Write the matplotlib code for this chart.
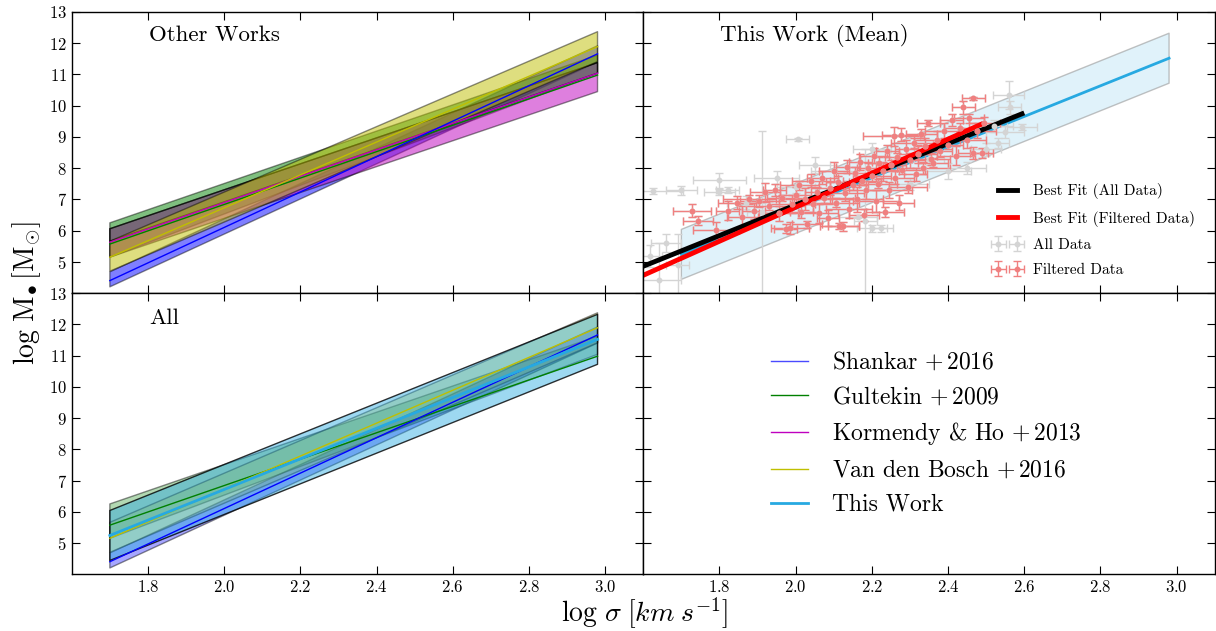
import numpy as np
import matplotlib
matplotlib.use("Agg")
import matplotlib.pyplot as plt

plt.rcParams["font.family"] = "serif"
plt.rcParams["font.serif"] = ["cmr10"]
plt.rcParams["mathtext.fontset"] = "cm"
plt.rcParams["axes.formatter.use_mathtext"] = True
plt.rcParams["xtick.direction"] = "in"
plt.rcParams["ytick.direction"] = "in"
plt.rcParams["xtick.top"] = True
plt.rcParams["ytick.right"] = True
plt.rcParams["xtick.major.size"] = 6
plt.rcParams["ytick.major.size"] = 6

# ---- relations: values at log sigma = 1.7 and 2.98 ----
sig_ends = [1.7, 2.98]

shankar_line = [4.40, 11.66]
shankar_lo = [4.20, 11.40]
shankar_hi = [4.68, 11.92]

gultekin_line = [5.57, 10.98]
gultekin_lo = [5.15, 11.04]
gultekin_hi = [6.25, 11.62]
gultekin_in_lo = [5.66, 11.04]
gultekin_in_hi = [6.06, 11.38]

kormendy_line = [5.63, 11.04]
kormendy_lo = [5.15, 10.45]
kormendy_hi = [6.06, 11.38]

bosch_line = [5.15, 11.89]
bosch_lo = [4.70, 11.41]
bosch_hi = [5.66, 12.37]

this_line = [5.24, 11.52]
this_lo = [4.44, 10.72]
this_hi = [6.04, 12.32]

# best fits (start, end)
fit_all_x = [1.6, 2.594]
fit_all_y = [4.86, 9.74]
fit_filt_x = [1.6, 2.488]
fit_filt_y = [4.57, 9.41]

# ---- filtered data ----
filt_x = [1.727, 1.743, 1.791, 1.822, 1.845, 1.860, 1.878, 1.890, 1.905, 1.919,
          1.930, 1.945, 1.955, 1.965, 1.974, 1.985, 1.990, 2.000, 2.010, 2.015,
          2.025, 2.030, 2.040, 2.045, 2.055, 2.060, 2.070, 2.075, 2.085, 2.090,
          2.100, 2.105, 2.110, 2.115, 2.125, 2.130, 2.135, 2.140, 2.150, 2.155,
          2.160, 2.170, 2.175, 2.180, 2.185, 2.190, 2.200, 2.205, 2.210, 2.215,
          2.220, 2.230, 2.235, 2.240, 2.245, 2.250, 2.257, 2.260, 2.265, 2.270,
          2.276, 2.280, 2.290, 2.295, 2.300, 2.310, 2.315, 2.320, 2.330, 2.335,
          2.340, 2.348, 2.355, 2.360, 2.370, 2.380, 2.390, 2.400, 2.410, 2.420,
          2.430, 2.440, 2.450, 2.455, 2.466, 2.466, 2.475, 2.488, 2.495]
filt_y = [6.64, 6.32, 6.03, 6.64, 6.90, 6.45, 7.00, 6.62, 6.95, 7.23,
          6.80, 7.30, 6.55, 7.05, 6.06, 6.08, 6.85, 7.15, 7.45, 6.60,
          7.00, 6.20, 7.60, 6.85, 7.25, 6.55, 7.70, 7.05, 6.40, 7.35,
          7.90, 6.90, 7.55, 6.15, 6.14, 7.20, 8.05, 6.70, 7.45, 7.85,
          7.00, 8.20, 7.60, 6.50, 7.30, 8.00, 7.75, 8.40, 6.95, 7.50,
          8.15, 7.90, 6.60, 8.55, 7.30, 8.10, 9.02, 7.70, 8.35, 6.90,
          9.07, 7.95, 8.60, 7.40, 8.25, 8.80, 7.80, 8.45, 9.10, 8.00,
          8.70, 9.44, 8.30, 8.18, 8.90, 8.55, 9.20, 8.75, 9.55, 8.40,
          9.30, 9.95, 8.90, 9.60, 10.24, 8.48, 9.20, 8.48, 9.45]
filt_xerr = [0.05, 0.04, 0.06, 0.03, 0.05, 0.04, 0.07, 0.03, 0.05, 0.04,
             0.06, 0.03, 0.05, 0.04, 0.03, 0.05, 0.06, 0.04, 0.05, 0.03,
             0.07, 0.04, 0.05, 0.06, 0.03, 0.05, 0.04, 0.08, 0.03, 0.05,
             0.04, 0.06, 0.03, 0.05, 0.04, 0.05, 0.03, 0.06, 0.04, 0.05,
             0.07, 0.03, 0.05, 0.04, 0.06, 0.03, 0.05, 0.04, 0.06, 0.05,
             0.03, 0.04, 0.05, 0.03, 0.06, 0.04, 0.08, 0.05, 0.03, 0.04,
             0.05, 0.06, 0.03, 0.05, 0.04, 0.06, 0.03, 0.05, 0.04, 0.07,
             0.03, 0.03, 0.05, 0.04, 0.06, 0.03, 0.05, 0.04, 0.03, 0.05,
             0.04, 0.03, 0.05, 0.04, 0.03, 0.04, 0.05, 0.03, 0.04]
filt_yerr = [0.20, 0.15, 0.25, 0.30, 0.20, 0.35, 0.15, 0.25, 0.20, 0.30,
             0.15, 0.20, 0.25, 0.10, 0.15, 0.20, 0.30, 0.25, 0.15, 0.20,
             0.35, 0.10, 0.20, 0.25, 0.15, 0.30, 0.20, 0.15, 0.25, 0.20,
             0.30, 0.15, 0.20, 0.10, 0.15, 0.25, 0.20, 0.30, 0.15, 0.20,
             0.40, 0.25, 0.15, 0.20, 0.30, 0.15, 0.20, 0.25, 0.35, 0.15,
             0.20, 0.30, 0.15, 0.20, 0.25, 0.15, 0.30, 0.20, 0.15, 0.25,
             0.20, 0.15, 0.30, 0.20, 0.25, 0.15, 0.20, 0.30, 0.15, 0.20,
             0.25, 0.10, 0.20, 0.15, 0.30, 0.20, 0.25, 0.15, 0.20, 0.30,
             0.15, 0.20, 0.25, 0.15, 0.05, 0.20, 0.25, 0.15, 0.20]

# ---- extra points in All Data ----
extra_x = [1.618, 1.640, 1.625, 1.660, 1.700, 1.690, 1.800, 1.800, 1.822, 1.870,
           1.911, 1.950, 2.005, 2.000, 2.050, 2.100, 2.163, 2.183, 2.200, 2.225,
           2.200, 2.300, 2.350, 2.400, 2.450, 2.500, 2.520, 2.530, 2.550, 2.559,
           2.562, 2.594]
extra_y = [5.20, 4.41, 7.28, 5.60, 7.29, 4.90, 7.61, 7.23, 7.29, 6.90,
           6.60, 7.70, 8.93, 7.40, 8.10, 7.90, 6.44, 6.30, 6.07, 6.07,
           8.60, 7.50, 8.30, 7.90, 8.00, 8.60, 9.35, 8.80, 9.15, 10.33,
           9.95, 9.32]
extra_xerr = [0.03, 0.06, 0.08, 0.04, 0.04, 0.03, 0.07, 0.04, 0.03, 0.05,
              0.04, 0.06, 0.03, 0.05, 0.04, 0.06, 0.05, 0.03, 0.04, 0.03,
              0.05, 0.05, 0.04, 0.06, 0.05, 0.04, 0.05, 0.03, 0.05, 0.04,
              0.03, 0.04]
extra_yerr = [0.35, 1.20, 0.10, 0.30, 0.15, 1.00, 0.25, 0.10, 0.10, 0.20,
              2.60, 0.20, 0.05, 0.20, 0.25, 0.20, 0.05, 2.30, 0.10, 0.10,
              0.20, 0.20, 0.20, 0.25, 0.20, 0.20, 0.20, 0.15, 0.20, 0.45,
              0.20, 0.10]

all_x = extra_x + filt_x
all_y = extra_y + filt_y
all_xerr = extra_xerr + filt_xerr
all_yerr = extra_yerr + filt_yerr

CYAN = "#27a9e1"
GRAY = "#d4d4d4"
PINK = "#f08080"

fig, axs = plt.subplots(2, 2, figsize=(12.16, 6.31), dpi=100, sharex=True, sharey=True)
fig.subplots_adjust(left=0.059, right=0.999, bottom=0.090, top=0.981, wspace=0, hspace=0)
ax_ow, ax_tw = axs[0]
ax_all, ax_leg = axs[1]


def band(ax, lo, hi, color, alpha=0.5, edge="k", ealpha=0.45):
    ax.fill_between(sig_ends, lo, hi, facecolor=color, alpha=alpha, lw=0)
    ax.fill_between(sig_ends, lo, hi, facecolor="none", edgecolor=edge,
                    alpha=ealpha, lw=1)


# Other Works
band(ax_ow, shankar_lo, shankar_hi, "b")
band(ax_ow, gultekin_lo, gultekin_hi, "g")
band(ax_ow, kormendy_lo, kormendy_hi, "m")
band(ax_ow, gultekin_in_lo, gultekin_in_hi, "g", alpha=0.25, ealpha=0.7)
band(ax_ow, bosch_lo, bosch_hi, "y")
ax_ow.plot(sig_ends, kormendy_line, color="m", lw=1)
ax_ow.plot(sig_ends, gultekin_line, color="g", lw=1)
ax_ow.plot(sig_ends, shankar_line, color="b", lw=1)
ax_ow.plot(sig_ends, bosch_line, color="y", lw=1)
ax_ow.text(0.136, 0.918, "Other Works", transform=ax_ow.transAxes, fontsize=16.5, va="center")

# This Work (Mean)
ax_tw.fill_between(sig_ends, this_lo, this_hi, facecolor=CYAN, alpha=0.14, lw=0)
ax_tw.fill_between(sig_ends, this_lo, this_hi, facecolor="none", edgecolor="0.6",
                   alpha=0.6, lw=1)
ax_tw.plot(sig_ends, this_line, color=CYAN, lw=2)
eb_all = ax_tw.errorbar(all_x, all_y, xerr=all_xerr, yerr=all_yerr, fmt="o", ms=3.2,
                        color=GRAY, ecolor=GRAY, capsize=3, elinewidth=1, mew=1)
eb_filt = ax_tw.errorbar(filt_x, filt_y, xerr=filt_xerr, yerr=filt_yerr, fmt="o", ms=3.2,
                         color=PINK, ecolor=PINK, capsize=3, elinewidth=1, mew=1)
ln_all, = ax_tw.plot(fit_all_x, fit_all_y, color="k", lw=3.5)
ln_filt, = ax_tw.plot(fit_filt_x, fit_filt_y, color="r", lw=3.5)
ax_tw.legend([ln_all, ln_filt, eb_all, eb_filt],
             ["Best Fit (All Data)", "Best Fit (Filtered Data)", "All Data", "Filtered Data"],
             loc="lower right", frameon=False, fontsize=11, numpoints=2,
             handlelength=1.8, labelspacing=0.75, bbox_to_anchor=(0.99, 0.008))
ax_tw.text(0.135, 0.918, "This Work (Mean)", transform=ax_tw.transAxes, fontsize=16.5, va="center")

# All
band(ax_all, shankar_lo, shankar_hi, "b", alpha=0.35)
band(ax_all, gultekin_lo, gultekin_hi, "g", alpha=0.3)
band(ax_all, bosch_lo, bosch_hi, "y", alpha=0.3)
ax_all.fill_between(sig_ends, this_lo, this_hi, facecolor=CYAN, alpha=0.45, lw=0)
ax_all.fill_between(sig_ends, this_lo, this_hi, facecolor="none", edgecolor="k",
                    alpha=0.8, lw=1)
ax_all.plot(sig_ends, gultekin_line, color="g", lw=1)
ax_all.plot(sig_ends, bosch_line, color="y", lw=1)
ax_all.plot(sig_ends, shankar_line, color="b", lw=1)
ax_all.plot(sig_ends, this_line, color=CYAN, lw=2)
ax_all.text(0.136, 0.91, "All", transform=ax_all.transAxes, fontsize=16.5, va="center")

# legend panel
names = [r"Shankar $+\,2016$", r"Gultekin $+\,2009$", r"Kormendy & Ho $+\,2013$",
         r"Van den Bosch $+\,2016$", "This Work"]
lcolors = ["#4a4aff", "g", "m", "y", CYAN]
lwidths = [1, 1, 1, 1, 2]
handles = [plt.Line2D([], [], color=c, lw=w) for c, w in zip(lcolors, lwidths)]
ax_leg.legend(handles, names, loc="center", frameon=False, fontsize=17,
              handlelength=1.6, handletextpad=1.0, labelspacing=0.5,
              bbox_to_anchor=(0.495, 0.5))

for ax in axs.flat:
    ax.set_xlim(1.6, 3.1)
    ax.set_ylim(4.0, 13.0)
    ax.set_xticks([1.8, 2.0, 2.2, 2.4, 2.6, 2.8, 3.0])
    ax.set_yticks(range(5, 14))
    ax.tick_params(labelsize=12)
    for s in ax.spines.values():
        s.set_linewidth(1.0)

fig.text(0.022, 0.535, r"$\log\,\mathrm{M}_{\bullet}\,[\mathrm{M}_{\odot}]$", rotation=90,
         fontsize=20, ha="center", va="center")
fig.text(0.53, 0.028, r"$\log\,\sigma\;[km\;s^{-1}]$", fontsize=20, ha="center", va="center")

fig.savefig("out.png", dpi=100)
